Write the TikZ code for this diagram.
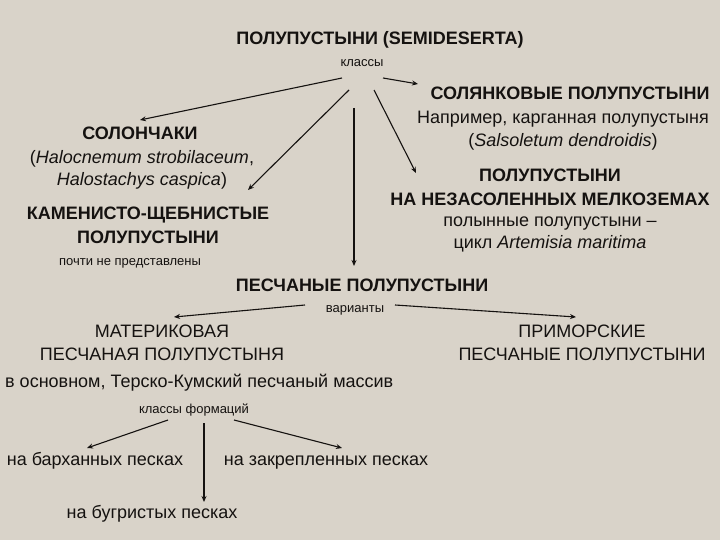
\documentclass[tikz,border=0pt]{standalone}
\usepackage{fontspec}
\usetikzlibrary{arrows.meta}
\setmainfont{Liberation Sans}
\definecolor{bg}{HTML}{D9D3C9}
\definecolor{ink}{HTML}{151210}
\begin{document}
\begin{tikzpicture}[x=1pt,y=-1pt,
  big/.style={font=\fontsize{18}{21}\selectfont\bfseries,text=ink,inner sep=0,text height=13pt,text depth=0pt},
  reg/.style={font=\fontsize{18}{21}\selectfont,text=ink,inner sep=0,text height=13pt,text depth=0pt},
  sml/.style={font=\fontsize{13}{15}\selectfont,text=ink,inner sep=0,text height=9.4pt,text depth=0pt},
  arr/.style={draw=ink,line width=1.1pt,-{Stealth[length=6pt,width=5pt]}}]
\fill[bg] (0,0) rectangle (720,540);
\useasboundingbox (0,0) rectangle (720,540);
\node[big] (t) at (380,38) {ПОЛУПУСТЫНИ (SEMIDESERTA)};
\node[sml] (k) at (362,62) {классы};
\node[big] (sol1) at (570,93) {СОЛЯНКОВЫЕ ПОЛУПУСТЫНИ};
\node[reg] (sol2) at (563,117) {Например, карганная полупустыня};
\node[reg] (sol3) at (563,140) {(\textit{Salsoletum dendroidis})};
\node[big] (sc1) at (140,133) {СОЛОНЧАКИ};
\node[reg] (sc2) at (142,157) {(\textit{Halocnemum strobilaceum},};
\node[reg] (sc3) at (142,179) {\textit{Halostachys caspica})};
\node[big] (ka1) at (148,213) {КАМЕНИСТО-ЩЕБНИСТЫЕ};
\node[big] (ka2) at (148,237) {ПОЛУПУСТЫНИ};
\node[sml] (ka3) at (130,261) {почти не представлены};
\node[big] (nz1) at (550,175) {ПОЛУПУСТЫНИ};
\node[big] (nz2) at (550,199) {НА НЕЗАСОЛЕННЫХ МЕЛКОЗЕМАХ};
\node[reg] (nz3) at (550,220) {полынные полупустыни –};
\node[reg] (nz4) at (550,242) {цикл \textit{Artemisia maritima}};
\node[big] (ps) at (362,285) {ПЕСЧАНЫЕ ПОЛУПУСТЫНИ};
\node[sml] (var) at (355,308) {варианты};
\node[reg] (m1) at (162,331) {МАТЕРИКОВАЯ};
\node[reg] (m2) at (162,354) {ПЕСЧАНАЯ ПОЛУПУСТЫНЯ};
\node[reg] (pr1) at (582,331) {ПРИМОРСКИЕ};
\node[reg] (pr2) at (582,354) {ПЕСЧАНЫЕ ПОЛУПУСТЫНИ};
\node[reg,anchor=west] (tk) at (5,381) {в основном, Терско-Кумский песчаный массив};
\node[sml] (kf) at (194,409) {классы формаций};
\node[reg] (b1) at (95,459) {на барханных песках};
\node[reg] (b2) at (326,459) {на закрепленных песках};
\node[reg] (b3) at (152,512) {на бугристых песках};
\coordinate (a1) at (342,78); \coordinate (e1) at (140,120);
\coordinate (a2) at (349,90); \coordinate (e2) at (248,190);
\coordinate (a3) at (354,108); \coordinate (e3) at (354,266);
\coordinate (a4) at (374,90); \coordinate (e4) at (416,173);
\coordinate (a5) at (383,78); \coordinate (e5) at (418,84);
\coordinate (v1) at (305,305); \coordinate (ve1) at (174,317);
\coordinate (v2) at (395,305); \coordinate (ve2) at (576,317);
\coordinate (f1) at (168,420); \coordinate (fe1) at (87,448);
\coordinate (f2) at (204,423); \coordinate (fe2) at (204,502);
\coordinate (f3) at (234,420); \coordinate (fe3) at (342,448);
\foreach \s/\e in {a1/e1,a2/e2,a3/e3,a4/e4,a5/e5,v1/ve1,v2/ve2,f1/fe1,f2/fe2,f3/fe3}
  \draw[arr] (\s) -- (\e);
\end{tikzpicture}
\end{document}
